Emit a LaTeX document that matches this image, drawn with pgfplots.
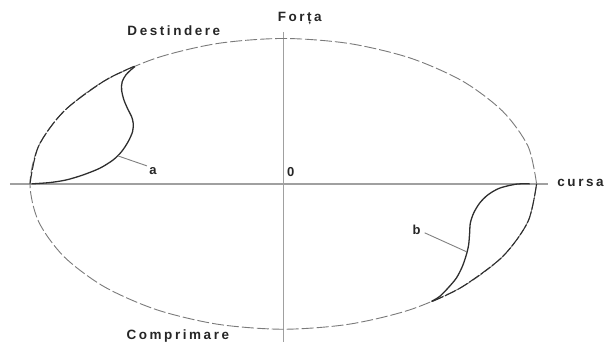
\documentclass[border=0pt]{standalone}
\usepackage{pgfplots}
\pgfplotsset{compat=1.18}
\usepackage{fontspec}
\setmainfont{Liberation Sans}
\newfontfamily\lbl[LetterSpace=19]{Liberation Sans}

\definecolor{axgray}{HTML}{A0A0A0}
\definecolor{elgray}{HTML}{7A7A7A}
\definecolor{curve}{HTML}{2E2E2E}

\begin{document}
\begin{tikzpicture}
\begin{axis}[
    x=1pt, y=1pt,
    y dir=reverse,
    xmin=0, xmax=607,
    ymin=0, ymax=347,
    hide axis,
    clip=false,
]
% keep the full frame as bounding box
\path (axis cs:0,0) rectangle (axis cs:607,347);

% axes
\addplot[axgray, line width=1.3pt] coordinates {(10,184) (548,184)};
\addplot[axgray, line width=1.3pt] coordinates {(284,32) (284,342)};

% ideal ellipse (dashed)
\addplot[elgray, line width=0.9pt, dash pattern=on 12pt off 3pt, smooth] coordinates {
    (537,184) (528.4,146.3) (503.0,111.3) (462.8,81.1) (410.3,58.0) (349.1,43.5)
    (283.5,38.5) (217.9,43.5) (156.8,58.0) (104.2,81.1) (64.0,111.3) (38.6,146.3)
    (30,184) (38.6,221.7) (64.0,256.8) (104.2,286.9) (156.8,310.0) (217.9,324.5)
    (283.5,329.5) (349.1,324.5) (410.3,310.0) (462.8,286.9) (503.0,256.8) (528.4,221.7)
    (537,184)
};
\addplot[curve, line width=1.1pt, dash pattern=on 12pt off 2pt, smooth] coordinates {
    (134.5,66.3) (104.2,81.1) (64.0,111.3) (38.6,146.3) (30,184)
};
\addplot[curve, line width=1.1pt, dash pattern=on 12pt off 2pt, smooth] coordinates {
    (432.5,301.7) (462.8,286.9) (503.0,256.8) (528.4,221.7) (537,184)
};

% curve a
\addplot[curve, line width=1.3pt, smooth] coordinates {
    (31.7,184) (50,182.7) (66.7,180) (83.3,175) (100,168.3) (113.3,160)
    (121.7,151.7) (128.3,141.7) (132.7,131.7) (133.3,123.3) (131.7,116.7)
    (128.3,110) (124,100) (121.7,90) (122.3,81.7) (126,75) (131.7,69.3) (135,66.7)
};
% curve b
\addplot[curve, line width=1.3pt, smooth] coordinates {
    (530,184) (516.7,184.3) (500,188.3) (488.3,195) (480,203.3) (474,213.3)
    (470.7,223.3) (470,233.3) (469,245) (466.7,255) (462.7,266.7) (456.7,278.3)
    (448.3,288.3) (440,296.7) (431.7,301.7)
};

% leaders
\addplot[gray, line width=0.9pt] coordinates {(118,156) (147,166)};
\addplot[gray, line width=0.9pt] coordinates {(467,252) (425,233)};

% labels
\node[font=\fontsize{13.5}{14}\lbl\bfseries, color=black!85] at (axis cs:300,18) {Forța};
\node[font=\fontsize{13.5}{14}\lbl\bfseries, color=black!85] at (axis cs:174,31) {Destindere};
\node[font=\fontsize{13.5}{14}\lbl\bfseries, color=black!85] at (axis cs:178,336) {Comprimare};
\node[font=\fontsize{13.5}{14}\lbl\bfseries, color=black!85] at (axis cs:581,183) {cursa};
\node[font=\fontsize{13}{14}\bfseries, color=black!85] at (axis cs:291,172) {0};
\node[font=\fontsize{13}{14}\bfseries, color=black!85] at (axis cs:153,171) {a};
\node[font=\fontsize{13}{14}\bfseries, color=black!85] at (axis cs:417,230) {b};

\end{axis}
\end{tikzpicture}
\end{document}
